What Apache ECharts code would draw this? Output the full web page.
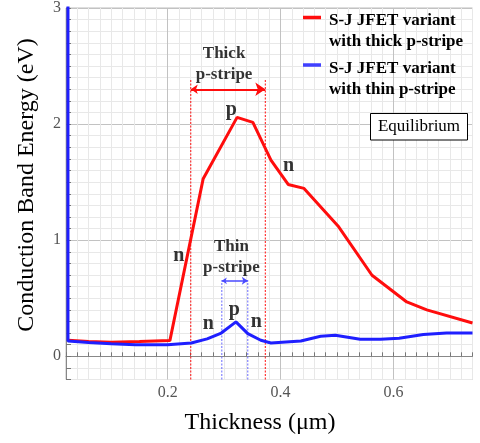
<!DOCTYPE html>
<html>
<head>
<meta charset="utf-8">
<script src="https://cdn.jsdelivr.net/npm/echarts@6/dist/echarts.min.js"></script>
<style>
html,body{margin:0;padding:0;background:#fff;}
#chart{width:480px;height:443px;}
</style>
</head>
<body>
<div id="chart"></div>
<script>
// ---- data ----
var thickX = [0.0235, 0.06, 0.10, 0.15, 0.204, 0.263, 0.323, 0.351, 0.383, 0.4135, 0.4416, 0.503, 0.562, 0.6236, 0.659, 0.74];
var thickY = [0.138, 0.128, 0.120, 0.127, 0.135, 1.53, 2.058, 2.015, 1.69, 1.48, 1.446, 1.115, 0.698, 0.468, 0.40, 0.287];

var thinX = [0.0235, 0.0235, 0.06, 0.10, 0.143, 0.20, 0.242, 0.27, 0.295, 0.321, 0.342, 0.365, 0.383, 0.436, 0.471, 0.497, 0.541, 0.577, 0.61, 0.653, 0.694, 0.74];
var thinY = [3.5, 0.132, 0.118, 0.109, 0.100, 0.100, 0.115, 0.15, 0.20, 0.296, 0.195, 0.138, 0.115, 0.132, 0.172, 0.181, 0.147, 0.147, 0.155, 0.187, 0.200, 0.200];

var seriesNames = ['S-J JFET variant\nwith thick p-stripe', 'S-J JFET variant\nwith thin p-stripe'];

var xTickLabels = [0.2, 0.4, 0.6];
var yTickLabels = [0, 1, 2, 3];

// stripe boundaries
var thickStripe = [0.241, 0.373];
var thickStripeTop = 2.39;
var thickArrowY = 2.30;
var thinStripe = [0.296, 0.342];
var thinStripeTop = 0.655;
var thinArrowY = 0.65;

// annotation texts
var annoText = ['Thick\np-stripe', 'Thin\np-stripe', 'p', 'n', 'n', 'n', 'p', 'n'];
var annoX = [0.300, 0.313, 0.313, 0.414, 0.220, 0.272, 0.318, 0.357];
var annoY = [2.515, 0.853, 2.12, 1.64, 0.862, 0.282, 0.397, 0.296];

// ---- build ----
function zip(xs, ys) { return xs.map(function (x, i) { return [x, ys[i]]; }); }

var RED = '#ff0d0d';
var BLUE = '#1f1fff';
var SERIF = 'Liberation Serif';

var xSplitColors = [];
for (var i = 0; i < 10; i++) xSplitColors.push(i === 9 ? '#c2c2c2' : '#e8e8e8');
var ySplitColors = [];
for (var j = 0; j < 10; j++) ySplitColors.push(j === 2 ? '#c2c2c2' : '#e8e8e8');

function isIn(list, v) {
  for (var k = 0; k < list.length; k++) if (Math.abs(list[k] - v) < 1e-6) return true;
  return false;
}

var annoData = annoText.map(function (t, i) {
  var big = t.length > 1;
  return {
    name: t,
    value: [annoX[i], annoY[i]],
    label: { fontSize: big ? 17 : 20, lineHeight: big ? 21 : 22 }
  };
});

function vline(x, top, color) {
  return {
    type: 'line', symbol: 'none', silent: true, z: 2,
    data: [[x, -0.2], [x, top]],
    lineStyle: { width: 1, type: [2, 1.5], color: color },
    itemStyle: { color: color }
  };
}

function txt(x, y, text, size, weight, extra) {
  var s = {
    text: text, fontFamily: SERIF, fontSize: size, fontWeight: weight || 'normal',
    fill: '#000', textVerticalAlign: 'middle'
  };
  if (extra) for (var k in extra) s[k] = extra[k];
  return { type: 'text', x: x, y: y, style: s, z: 11 };
}

var chart = echarts.init(document.getElementById('chart'), null, { renderer: 'canvas' });

var axisTitleY = txt(27, 185, 'Conduction Band Energy (eV)', 24, 'normal', { textAlign: 'center' });
axisTitleY.rotation = Math.PI / 2;

var option = {
  animation: false,
  backgroundColor: '#fff',
  grid: {
    left: 66, right: 7.5, top: 7.5, bottom: 63.5,
    show: true, borderColor: '#bdbdbd', borderWidth: 1, backgroundColor: '#fff'
  },
  legend: { show: false },
  xAxis: {
    type: 'value', min: 0.02, max: 0.74, interval: 0.02,
    axisLine: { show: true, lineStyle: { color: '#888', width: 1 } },
    axisTick: { show: true, inside: true, length: 4, lineStyle: { color: '#777' } },
    axisLabel: {
      color: '#555', fontFamily: SERIF, fontSize: 16, margin: 5,
      formatter: function (v) { return isIn(xTickLabels, v) ? v.toFixed(1) : ''; }
    },
    splitLine: { show: true, lineStyle: { color: xSplitColors, width: 1 } }
  },
  yAxis: {
    type: 'value', min: -0.2, max: 3, interval: 0.1,
    axisLine: { show: true, lineStyle: { color: '#888', width: 1 } },
    axisTick: { show: true, inside: true, length: 5, lineStyle: { color: '#777' } },
    axisLabel: {
      color: '#555', fontFamily: SERIF, fontSize: 16, margin: 5,
      formatter: function (v) { return isIn(yTickLabels, v) ? String(Math.round(v)) : ''; }
    },
    splitLine: { show: true, lineStyle: { color: ySplitColors, width: 1 } }
  },
  series: [
    {
      name: seriesNames[0], type: 'line', data: zip(thickX, thickY),
      symbol: 'none', lineStyle: { color: RED, width: 3 }, itemStyle: { color: RED }, z: 3
    },
    {
      name: seriesNames[1], type: 'line', data: zip(thinX, thinY),
      symbol: 'none', lineStyle: { color: BLUE, width: 3 }, itemStyle: { color: BLUE }, z: 4
    },
    vline(thickStripe[0], thickStripeTop, RED),
    vline(thickStripe[1], thickStripeTop, RED),
    vline(thinStripe[0], thinStripeTop, '#6a6aff'),
    vline(thinStripe[1], thinStripeTop, '#6a6aff'),
    {
      type: 'lines', coordinateSystem: 'cartesian2d', symbol: ['arrow', 'arrow'], symbolSize: [7, 10], silent: true, z: 3,
      data: [{ coords: [[thickStripe[0], thickArrowY], [thickStripe[1], thickArrowY]] }],
      lineStyle: { width: 2, color: RED, opacity: 1 }
    },
    {
      type: 'lines', coordinateSystem: 'cartesian2d', symbol: ['arrow', 'arrow'], symbolSize: [5, 6], silent: true, z: 3,
      data: [{ coords: [[thinStripe[0], thinArrowY], [thinStripe[1], thinArrowY]] }],
      lineStyle: { width: 1.5, color: '#4a4aff', opacity: 1 }
    },
    {
      type: 'scatter', symbolSize: 0, silent: true, z: 6,
      data: annoData,
      label: {
        show: true, position: 'inside', formatter: '{b}',
        color: '#000', fontFamily: SERIF, fontWeight: 'bold', align: 'center', verticalAlign: 'middle'
      }
    }
  ],
  graphic: [
    // axis titles
    txt(260, 423, 'Thickness (\u03bcm)', 24, 'normal', { textAlign: 'center' }),
    axisTitleY,
    // legend
    { type: 'line', shape: { x1: 303, y1: 17.5, x2: 321, y2: 17.5 }, style: { stroke: RED, lineWidth: 3.5 }, z: 10 },
    txt(329, 20.7, 'S-J JFET variant', 17, 'bold'),
    txt(329, 41.7, 'with thick p-stripe', 17, 'bold'),
    { type: 'line', shape: { x1: 303, y1: 65, x2: 321, y2: 65 }, style: { stroke: '#4040ff', lineWidth: 3.5 }, z: 10 },
    txt(329, 68.3, 'S-J JFET variant', 17, 'bold'),
    txt(329, 89.3, 'with thin p-stripe', 17, 'bold'),
    // Equilibrium box
    { type: 'rect', shape: { x: 370.5, y: 113.5, width: 97, height: 26.5 }, style: { fill: '#fff', stroke: '#000', lineWidth: 1 }, z: 10 },
    txt(419, 127, 'Equilibrium', 17, 'normal', { textAlign: 'center' })
  ]
};

chart.setOption(option);
</script>
</body>
</html>
